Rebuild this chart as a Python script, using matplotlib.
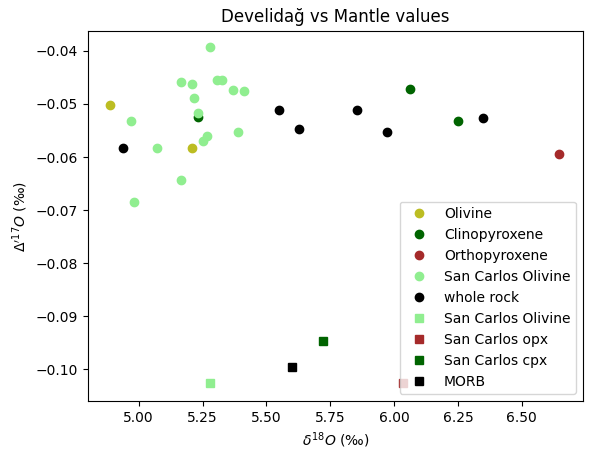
import matplotlib
matplotlib.use("Agg")
import matplotlib.pyplot as plt

ol_x = [4.887, 5.207]; ol_y = [-0.0502, -0.0582]
cpx_x = [5.234, 6.063, 6.25]; cpx_y = [-0.0524, -0.0472, -0.0532]
opx_x = [6.647]; opx_y = [-0.0594]
sc_x = [5.281, 5.164, 5.207, 5.306, 5.328, 5.371, 5.413, 5.215, 5.234, 4.969, 5.387, 5.266, 5.25, 5.070, 5.164, 4.98]
sc_y = [-0.0393, -0.0459, -0.0463, -0.0454, -0.0454, -0.0473, -0.0475, -0.0489, -0.0517, -0.0533, -0.0552, -0.056, -0.057, -0.0582, -0.0644, -0.0685]
wr_x = [4.940, 5.55, 5.628, 5.854, 5.974, 6.349]
wr_y = [-0.0583, -0.0512, -0.0548, -0.0512, -0.0553, -0.0526]
scol_x = [5.28]; scol_y = [-0.1026]
scopx_x = [6.035]; scopx_y = [-0.1026]
sccpx_x = [5.72]; sccpx_y = [-0.0947]
morb_x = [5.60]; morb_y = [-0.0996]

fig, ax = plt.subplots(figsize=(5.92, 4.59), dpi=100)
ax.plot(ol_x, ol_y, 'o', color='#bcbd22', label='Olivine')
ax.plot(cpx_x, cpx_y, 'o', color='darkgreen', label='Clinopyroxene')
ax.plot(opx_x, opx_y, 'o', color='brown', label='Orthopyroxene')
ax.plot(sc_x, sc_y, 'o', color='lightgreen', label='San Carlos Olivine')
ax.plot(wr_x, wr_y, 'o', color='black', label='whole rock')
ax.plot(scol_x, scol_y, 's', color='lightgreen', label='San Carlos Olivine')
ax.plot(scopx_x, scopx_y, 's', color='brown', label='San Carlos opx')
ax.plot(sccpx_x, sccpx_y, 's', color='darkgreen', label='San Carlos cpx')
ax.plot(morb_x, morb_y, 's', color='black', label='MORB')
ax.set_xlim(4.80, 6.74)
ax.set_ylim(-0.106, -0.0362)
ax.set_xlabel(r'$\delta^{18}O$ (‰)')
ax.set_ylabel(r"$\Delta'^{17}O$ (‰)")
ax.set_title('Develidağ vs Mantle values')
ax.legend(loc='lower right')
fig.subplots_adjust(left=0.148, right=0.985, top=0.933, bottom=0.126)
fig.savefig('out.png', dpi=100)
